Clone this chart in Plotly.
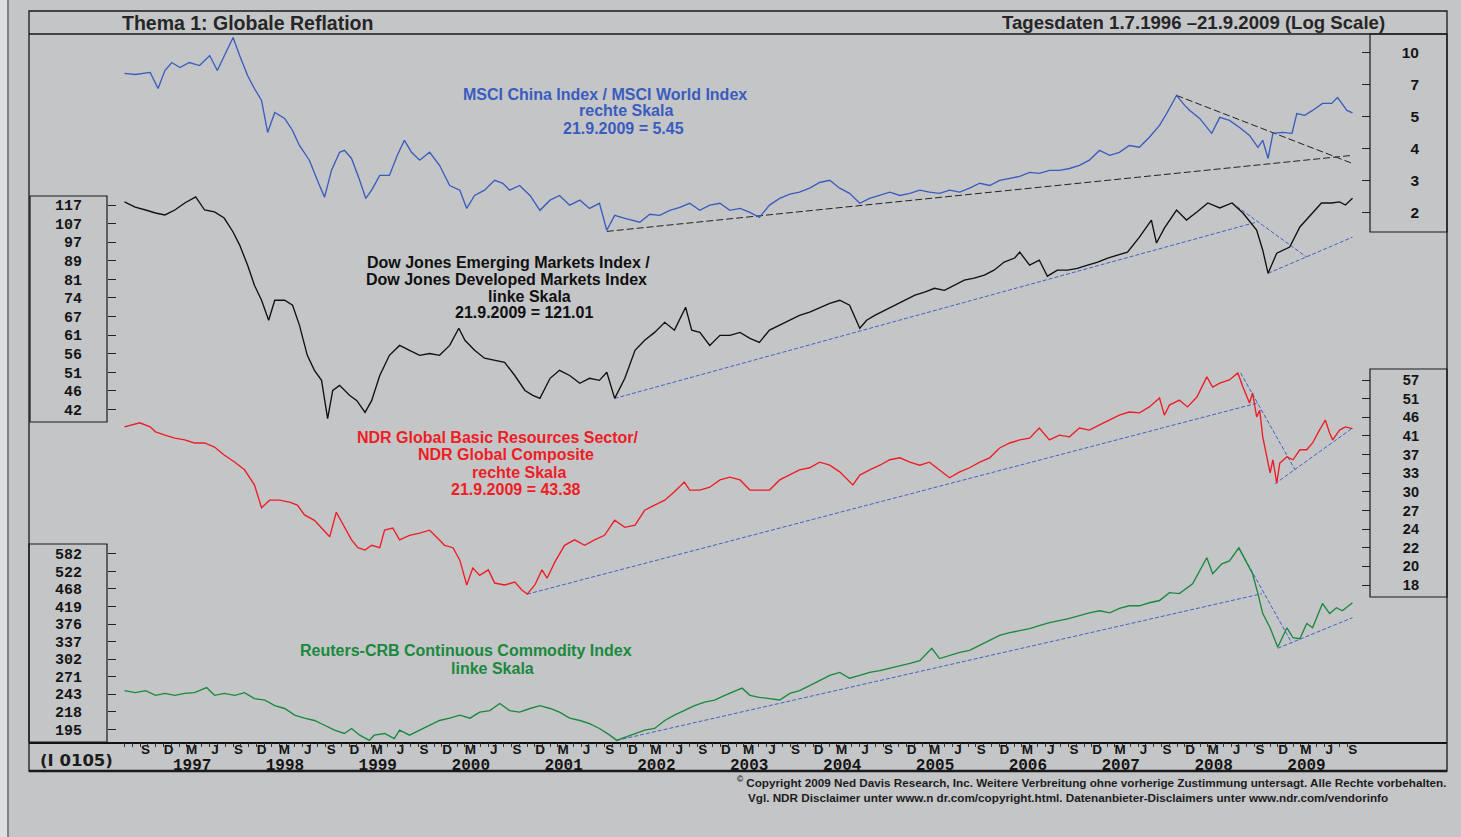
import numpy as np
import pandas as pd
import plotly.graph_objects as go

# ---------------------------------------------------------------- data
msci_dates = ["1996-07-01","1996-08-12","1996-10-10","1996-11-10","1996-12-07","1997-01-03","1997-02-04","1997-03-13",
    "1997-04-22","1997-06-01","1997-07-01","1997-07-28","1997-09-01","1997-09-27","1997-10-28","1997-11-24","1997-12-22",
    "1998-01-15","1998-02-12","1998-03-23","1998-04-23","1998-05-20","1998-06-28","1998-08-07","1998-08-27","1998-09-23",
    "1998-10-25","1998-11-13","1998-12-11","1999-01-12","1999-02-05","1999-02-28","1999-04-01","1999-05-09","1999-06-09",
    "1999-07-07","1999-08-04","1999-09-05","1999-10-14","1999-11-22","2000-01-01","2000-02-10","2000-03-08","2000-04-08",
    "2000-05-17","2000-06-26","2000-07-28","2000-08-24","2000-10-02","2000-11-12","2000-12-21","2001-01-30","2001-03-08",
    "2001-04-17","2001-05-27","2001-07-04","2001-08-12","2001-09-10","2001-10-11","2001-11-20","2002-01-18","2002-02-26",
    "2002-04-06","2002-05-16","2002-06-24","2002-08-02","2002-09-11","2002-10-20","2002-11-29","2003-01-07","2003-02-16",
    "2003-03-27","2003-05-03","2003-06-12","2003-07-22","2003-08-31","2003-10-08","2003-11-17","2003-12-26","2004-02-04",
    "2004-03-14","2004-04-22","2004-06-01","2004-07-10","2004-08-19","2004-09-27","2004-11-06","2004-12-15","2005-01-23",
    "2005-03-02","2005-04-11","2005-05-20","2005-06-29","2005-08-07","2005-09-16","2005-10-25","2005-12-03","2006-01-12",
    "2006-02-20","2006-03-31","2006-05-08","2006-06-17","2006-07-26","2006-09-04","2006-10-13","2006-11-21","2006-12-31",
    "2007-02-09","2007-03-19","2007-04-27","2007-06-06","2007-07-15","2007-08-24","2007-09-21","2007-10-30","2007-12-01",
    "2007-12-21","2008-01-29","2008-03-16","2008-04-17","2008-05-25","2008-07-04","2008-08-12","2008-09-14","2008-10-03",
    "2008-10-24","2008-11-12","2008-12-18","2009-01-26","2009-02-14","2009-03-17","2009-04-17","2009-05-26","2009-07-01",
    "2009-07-24","2009-08-30","2009-09-21"]
msci_vals = [8.10,8.01,8.18,6.96,8.34,9.04,8.60,9.04,8.77,9.70,8.34,9.70,11.63,9.70,7.93,6.96,6.17,
    4.47,5.47,5.15,4.56,3.92,3.38,2.62,2.33,3.05,3.66,3.73,3.44,2.76,2.30,2.50,2.90,2.90,3.55,
    4.13,3.66,3.38,3.66,3.21,2.62,2.50,2.08,2.37,2.50,2.76,2.68,2.50,2.62,2.37,2.04,2.26,2.37,
    2.15,2.26,2.08,2.19,1.67,1.94,1.88,1.81,1.96,1.94,2.04,2.10,2.19,2.04,2.15,2.19,2.04,2.08,
    2.00,1.90,2.15,2.30,2.40,2.45,2.55,2.70,2.76,2.55,2.42,2.19,2.30,2.37,2.45,2.37,2.42,2.50,
    2.45,2.42,2.50,2.45,2.55,2.68,2.62,2.76,2.81,2.87,2.99,2.96,3.05,3.05,3.11,3.21,3.38,3.73,
    3.55,3.66,3.92,3.85,4.26,4.80,5.41,6.49,5.87,5.58,5.15,4.43,5.20,5.05,4.70,4.34,3.85,4.13,
    3.44,4.43,4.47,4.43,5.41,5.31,5.58,5.99,5.99,6.36,5.58,5.45]

dj_dates = ["1996-07-01","1996-08-12","1996-09-22","1996-10-31","1996-12-07","1997-01-15","1997-02-23","1997-04-07",
    "1997-05-12","1997-06-20","1997-07-28","1997-09-01","1997-09-27","1997-10-28","1997-11-24","1997-12-22","1998-01-19",
    "1998-02-12","1998-03-23","1998-04-23","1998-05-20","1998-06-20","1998-07-18","1998-08-15","1998-09-08","1998-09-28",
    "1998-10-25","1998-12-03","1999-01-01","1999-02-02","1999-02-28","1999-04-01","1999-05-09","1999-06-18","1999-07-27",
    "1999-09-05","1999-10-14","1999-11-22","2000-01-01","2000-02-06","2000-03-01","2000-04-08","2000-05-17","2000-06-26",
    "2000-08-04","2000-09-13","2000-10-23","2000-11-23","2000-12-21","2001-01-30","2001-03-08","2001-04-17","2001-05-27",
    "2001-07-04","2001-08-12","2001-09-10","2001-10-11","2001-11-20","2001-12-30","2002-02-06","2002-03-17","2002-04-26",
    "2002-06-03","2002-07-17","2002-08-10","2002-09-11","2002-10-20","2002-11-29","2003-01-07","2003-02-16","2003-03-27",
    "2003-05-03","2003-06-12","2003-07-22","2003-08-31","2003-10-08","2003-11-17","2003-12-26","2004-02-04","2004-03-14",
    "2004-04-22","2004-06-01","2004-06-28","2004-07-30","2004-09-08","2004-10-17","2004-11-26","2005-01-04","2005-02-11",
    "2005-03-22","2005-04-30","2005-06-07","2005-07-17","2005-08-25","2005-10-04","2005-11-11","2005-12-21","2006-01-31",
    "2006-02-20","2006-03-31","2006-05-08","2006-06-09","2006-07-18","2006-08-27","2006-10-05","2006-11-14","2006-12-24",
    "2007-02-01","2007-03-12","2007-04-20","2007-06-06","2007-07-23","2007-08-12","2007-09-12","2007-10-30","2007-12-08",
    "2008-01-18","2008-03-01","2008-04-17","2008-06-04","2008-07-17","2008-09-09","2008-10-03","2008-10-24","2008-11-27",
    "2009-01-17","2009-02-26","2009-04-17","2009-05-22","2009-07-01","2009-08-01","2009-08-24","2009-09-21"]
dj_vals = [118.8,115.8,114.1,112.4,111.3,114.1,118.2,121.8,114.1,113.0,109.6,102.2,95.7,86.6,78.3,72.6,65.7,
    72.6,72.6,70.8,64.1,55.1,51.1,48.6,40.1,46.2,47.4,45.1,43.9,41.4,43.9,49.8,55.1,57.9,56.5,
    55.1,55.6,55.1,57.9,63.1,59.4,56.5,54.3,53.7,53.2,49.8,46.2,45.1,44.4,49.1,51.1,49.8,47.9,
    49.1,48.6,50.6,44.4,49.1,56.5,59.4,61.8,65.0,62.5,70.1,62.5,61.8,57.9,60.9,60.9,61.8,60.0,
    58.8,62.5,64.1,65.7,67.3,68.4,69.8,71.5,72.6,70.8,63.1,65.7,67.3,69.1,70.8,72.6,74.5,75.6,
    77.1,76.3,78.3,80.3,81.1,82.3,84.4,87.9,89.7,92.4,86.6,88.8,81.9,84.4,84.4,85.2,86.6,87.9,
    89.7,91.0,92.4,99.6,108.5,96.7,104.2,114.1,108.5,113.0,118.2,115.3,118.2,112.4,103.2,93.3,83.1,91.9,
    94.8,104.8,112.4,118.2,118.2,118.8,117.0,121.01]

ndr_dates = ["1996-07-01","1996-08-30","1996-10-10","1996-10-31","1996-12-07","1997-01-15","1997-02-23","1997-04-02",
    "1997-05-12","1997-06-20","1997-07-28","1997-09-08","1997-10-16","1997-11-24","1997-12-22","1998-01-23","1998-03-02",
    "1998-04-11","1998-05-12","1998-06-09","1998-07-18","1998-08-15","1998-09-16","1998-10-12","1998-11-13","1998-12-11",
    "1999-01-05","1999-02-02","1999-02-28","1999-04-01","1999-04-20","1999-05-22","1999-06-18","1999-07-27","1999-09-05",
    "1999-10-14","1999-11-15","1999-12-12","2000-01-14","2000-02-10","2000-03-08","2000-04-01","2000-04-28","2000-06-01",
    "2000-06-26","2000-08-04","2000-09-13","2000-10-11","2000-11-01","2000-12-01","2000-12-29","2001-01-18","2001-02-18",
    "2001-03-28","2001-05-06","2001-06-15","2001-07-24","2001-09-01","2001-10-11","2001-11-20","2001-12-30","2002-02-06",
    "2002-03-17","2002-04-26","2002-06-03","2002-07-12","2002-08-02","2002-09-11","2002-10-20","2002-11-29","2003-01-07",
    "2003-02-16","2003-03-27","2003-05-03","2003-06-12","2003-07-22","2003-08-31","2003-10-08","2003-11-17","2003-12-26",
    "2004-02-04","2004-03-14","2004-05-05","2004-06-01","2004-07-10","2004-08-19","2004-09-27","2004-11-06","2004-12-15",
    "2005-01-23","2005-03-02","2005-04-11","2005-05-20","2005-06-29","2005-08-07","2005-09-16","2005-10-25","2005-12-03",
    "2006-01-12","2006-02-20","2006-03-31","2006-05-08","2006-06-17","2006-07-26","2006-09-04","2006-10-13","2006-11-21",
    "2006-12-31","2007-02-09","2007-03-19","2007-04-27","2007-06-06","2007-07-15","2007-08-24","2007-09-12","2007-10-02",
    "2007-11-10","2007-12-12","2008-01-18","2008-02-26","2008-03-20","2008-04-17","2008-05-25","2008-06-27","2008-07-17",
    "2008-08-12","2008-08-24","2008-09-09","2008-09-21","2008-10-03","2008-10-19","2008-11-01","2008-11-12","2008-11-27",
    "2008-12-09","2009-01-06","2009-01-30","2009-02-26","2009-03-25","2009-04-17","2009-05-14","2009-06-06","2009-06-23",
    "2009-07-05","2009-08-01","2009-08-24","2009-09-21"]
ndr_vals = [43.8,44.8,43.8,42.6,41.8,41.1,40.7,40.0,40.0,39.1,37.4,35.9,34.4,31.6,27.8,29.0,29.0,
    28.7,28.2,26.7,25.9,24.8,23.6,27.1,24.9,23.2,22.2,21.9,22.5,22.2,24.5,24.8,23.2,23.8,24.1,
    24.5,23.4,22.5,22.2,20.7,18.0,19.8,19.0,19.6,18.2,18.0,18.3,17.5,17.1,18.0,19.6,18.7,20.5,
    22.5,23.2,22.5,23.2,23.8,25.9,24.9,25.2,27.4,28.2,29.0,30.4,32.1,30.7,30.7,31.2,32.5,33.0,
    32.5,30.7,30.7,30.7,32.5,33.4,34.4,34.8,35.9,35.3,34.0,31.6,33.4,34.4,35.3,36.4,36.8,35.9,
    35.3,35.9,34.4,32.9,34.0,34.8,35.9,36.8,38.9,40.0,40.7,41.1,43.5,40.7,41.8,41.4,43.5,43.0,
    44.3,45.5,46.8,47.6,47.4,49.0,51.5,46.8,49.5,50.9,49.0,51.8,58.0,54.8,56.0,57.0,59.3,54.8,
    50.1,53.0,46.3,48.1,41.4,37.0,33.8,36.4,31.9,35.7,37.0,36.4,38.5,38.5,40.0,43.0,45.5,42.3,
    40.7,43.0,43.8,43.38]

crb_dates = ["1996-07-01","1996-08-12","1996-09-22","1996-10-31","1996-12-07","1997-01-15","1997-02-23","1997-04-02",
    "1997-05-20","1997-06-20","1997-07-28","1997-09-08","1997-10-16","1997-11-24","1998-01-04","1998-02-12","1998-03-23",
    "1998-05-01","1998-06-09","1998-07-18","1998-08-27","1998-10-05","1998-11-13","1998-12-11","1999-01-12","1999-02-19",
    "1999-03-10","1999-04-20","1999-05-28","1999-06-18","1999-07-27","1999-09-05","1999-10-14","1999-11-22","2000-01-01",
    "2000-02-10","2000-03-21","2000-04-28","2000-06-07","2000-07-16","2000-08-24","2000-10-02","2000-11-12","2000-12-21",
    "2001-01-30","2001-03-08","2001-04-17","2001-05-27","2001-07-04","2001-08-12","2001-09-22","2001-10-19","2001-11-20",
    "2001-12-30","2002-02-06","2002-03-17","2002-04-26","2002-06-03","2002-07-12","2002-08-21","2002-09-30","2002-11-08",
    "2002-12-18","2003-01-27","2003-02-24","2003-03-27","2003-05-03","2003-06-12","2003-07-22","2003-08-31","2003-10-08",
    "2003-11-17","2003-12-26","2004-02-04","2004-03-14","2004-04-22","2004-06-01","2004-07-10","2004-08-19","2004-09-27",
    "2004-11-06","2004-12-15","2005-01-23","2005-03-11","2005-04-11","2005-05-20","2005-06-29","2005-08-07","2005-09-16",
    "2005-10-25","2005-12-03","2006-01-12","2006-02-20","2006-03-31","2006-05-08","2006-06-17","2006-07-26","2006-09-04",
    "2006-10-13","2006-11-21","2006-12-31","2007-02-09","2007-03-19","2007-04-27","2007-06-06","2007-07-15","2007-08-24",
    "2007-10-02","2007-11-10","2008-01-01","2008-02-26","2008-03-20","2008-04-25","2008-05-25","2008-07-01","2008-08-02",
    "2008-08-24","2008-09-14","2008-10-03","2008-11-01","2008-12-01","2009-01-06","2009-01-30","2009-02-26","2009-03-25",
    "2009-04-17","2009-05-03","2009-05-26","2009-06-23","2009-07-20","2009-08-12","2009-09-21"]
crb_vals = [248,245,248,241,244,241,244,245,253,241,244,241,245,236,234,226,222,
    213,209,206,200,194,190,196,188,182,188,190,184,194,188,194,200,206,209,
    213,209,217,219,229,219,217,222,226,222,217,209,206,202,196,188,182,185.5,
    190,194,196,206,213,219,226,231,234,241,248,252,241,238,236,234,244,248,
    256,264,273,278,268,273,278,281,285,290,294,299,323,303,309,315,319,329,
    339,350,356,361,365,372,379,384,389,396,403,408,403,414,421,421,429,435,
    457,454,483,568,514,547,557,604,547,514,454,401,367,325,367,345,343,377,
    367,391,427,401,416,408,429]

# trend lines (start, end)
msci_support_dates, msci_support_vals = ["2001-09-10", "2009-09-21"], [1.65, 3.55]
msci_resist_dates, msci_resist_vals = ["2007-10-30", "2009-09-21"], [6.49, 3.27]
dj_long_dates, dj_long_vals = ["2001-10-11", "2008-09-09"], [44.4, 107.4]
dj_down_dates, dj_down_vals = ["2008-06-04", "2009-03-25"], [118.2, 90.1]
dj_up_dates, dj_up_vals = ["2008-10-24", "2009-09-21"], [83.1, 99.6]
ndr_long_dates, ndr_long_vals = ["2000-11-01", "2008-09-14"], [17.1, 50.1]
ndr_down_dates, ndr_down_vals = ["2008-07-08", "2009-02-07"], [59.3, 34.4]
ndr_up_dates, ndr_up_vals = ["2008-11-20", "2009-09-21"], [31.8, 43.5]
crb_long_dates, crb_long_vals = ["2001-10-19", "2008-09-30"], [182, 454]
crb_down_dates, crb_down_vals = ["2008-07-01", "2009-01-26"], [604, 333]
crb_up_dates, crb_up_vals = ["2008-12-01", "2009-09-21"], [323, 391]

# axis tick labels (ticks are evenly spaced on the log scale)
msci_ticktext = ["10", "7", "5", "4", "3", "2"]
dj_ticktext = ["117", "107", "97", "89", "81", "74", "67", "61", "56", "51", "46", "42"]
ndr_ticktext = ["57", "51", "46", "41", "37", "33", "30", "27", "24", "22", "20", "18"]
crb_ticktext = ["582", "522", "468", "419", "376", "337", "302", "271", "243", "218", "195"]
month_letters = {9: "S", 12: "D", 3: "M", 6: "J"}
years = list(range(1997, 2010))

# ---------------------------------------------------------------- layout geometry (pixels)
W, H = 1461, 837
PL, PR, PT, PB = 29, 1447, 34, 742


def px_x(p):
    return (p - PL) / (PR - PL)


def px_y(p):
    return (PB - p) / (PB - PT)


def log_range(v_top, py_top, v_bot, py_bot):
    k = (np.log10(v_top) - np.log10(v_bot)) / (py_bot - py_top)
    return [np.log10(v_bot) - k * (PB - py_bot), np.log10(v_top) + k * (py_top - PT)]


def geo_ticks(n_labels, hi, lo):
    n = n_labels - 1
    return [hi * (lo / hi) ** (i / n) for i in range(n_labels)]


BG = "#c4c5c7"
BLUE = "#3a5cbf"
RED = "#ee1d25"
GREEN = "#19893d"
BLACK = "#101010"
TBLUE = "#4262c6"
SANS = "Liberation Sans, Arial, sans-serif"
MONO = "Liberation Mono, Courier New, monospace"
NARROW = "Liberation Sans Narrow, Arial Narrow, Liberation Sans, sans-serif"
WIDE = "DejaVu Sans, Liberation Sans, sans-serif"

msci_range = log_range(10, 52.5, 2, 212.3)
dj_range = log_range(117, 205, 42, 409.5)
ndr_range = log_range(57, 380, 18, 585)
crb_range = log_range(582, 553.8, 195, 729.3)

msci_tickvals = geo_ticks(6, 10, 2)
dj_tickvals = geo_ticks(12, 117, 42)
ndr_tickvals = geo_ticks(12, 57, 18)
crb_tickvals = geo_ticks(11, 582, 195)

start, end = pd.Timestamp("1996-07-01"), pd.Timestamp("2009-09-21")
dpp = (end - start).days / (1352.5 - 124.5)
x0 = start - pd.Timedelta(days=(124.5 - PL) * dpp)
x1 = end + pd.Timedelta(days=(PR - 1352.5) * dpp)

lab_vals, lab_text = [], []
for y in range(1996, 2010):
    for m in (3, 6, 9, 12):
        d = pd.Timestamp(year=y, month=m, day=22)
        if pd.Timestamp("1996-09-01") <= d <= pd.Timestamp("2009-09-30"):
            lab_vals.append(d.strftime("%Y-%m-%d"))
            lab_text.append(month_letters[m])
year_vals = [f"{y}-03-24" for y in years]
year_text = [str(y) for y in years]
month_ticks = [d.strftime("%Y-%m-%d") for d in pd.date_range("1996-07-01", "2009-09-01", freq="MS")]

# ---------------------------------------------------------------- figure
fig = go.Figure()


def line(xs, ys, color, axis, width=1.35, dash=None, xaxis="x"):
    fig.add_trace(go.Scatter(x=xs, y=ys, mode="lines", xaxis=xaxis, yaxis=axis, hoverinfo="skip",
                             line=dict(color=color, width=width, dash=dash), showlegend=False))


line(msci_support_dates, msci_support_vals, "#222222", "y", 1, "7px,3px")
line(msci_resist_dates, msci_resist_vals, "#222222", "y", 1, "7px,3px")
line(dj_long_dates, dj_long_vals, TBLUE, "y2", 1, "4px,2px")
line(dj_down_dates, dj_down_vals, TBLUE, "y2", 1, "4px,2px")
line(dj_up_dates, dj_up_vals, TBLUE, "y2", 1, "4px,2px")
line(ndr_long_dates, ndr_long_vals, TBLUE, "y3", 1, "4px,2px")
line(ndr_down_dates, ndr_down_vals, TBLUE, "y3", 1, "4px,2px")
line(ndr_up_dates, ndr_up_vals, TBLUE, "y3", 1, "4px,2px")
line(crb_long_dates, crb_long_vals, TBLUE, "y4", 1, "4px,2px")
line(crb_down_dates, crb_down_vals, TBLUE, "y4", 1, "4px,2px")
line(crb_up_dates, crb_up_vals, TBLUE, "y4", 1, "4px,2px")

line(msci_dates, msci_vals, BLUE, "y")
line(dj_dates, dj_vals, BLACK, "y2")
line(ndr_dates, ndr_vals, RED, "y3")
line(crb_dates, crb_vals, GREEN, "y4")

# invisible anchors so the label-only / tick-only axes are drawn
for xa, ya, xs, ys in (("x", "y5", msci_dates, msci_vals), ("x", "y6", ndr_dates, ndr_vals),
                       ("x2", "y", msci_dates, msci_vals), ("x3", "y", msci_dates, msci_vals)):
    fig.add_trace(go.Scatter(x=[xs[-1]], y=[ys[-1]], mode="markers", xaxis=xa, yaxis=ya,
                             marker=dict(opacity=0, size=1), hoverinfo="skip", showlegend=False))

common_y = dict(type="log", anchor="free", showgrid=False, zeroline=False, showline=False,
                fixedrange=True, tickmode="array", tickcolor="#222222", tickwidth=1)
common_x = dict(type="date", range=[x0, x1], showgrid=False, zeroline=False, fixedrange=True,
                tickmode="array")

fig.update_layout(
    width=W, height=H,
    margin=dict(l=PL, r=W - PR, t=PT, b=H - PB, autoexpand=False),
    paper_bgcolor=BG, plot_bgcolor=BG,
    showlegend=False,
    # main time axis: axis line and the year labels
    xaxis=dict(common_x, showline=True, linecolor="#111111", linewidth=2,
               tickvals=year_vals, ticktext=year_text, ticks="", ticklabelstandoff=7,
               tickfont=dict(family=MONO, size=16, color="#151515", weight="bold")),
    # overlay time axis carrying the quarter letters
    xaxis2=dict(common_x, overlaying="x", anchor="free", position=px_y(739.5), side="bottom",
                showline=False, tickvals=lab_vals, ticktext=lab_text, ticks="",
                tickfont=dict(family=SANS, size=13.5, color="#151515", weight="bold")),
    # overlay time axis carrying the monthly ticks over the data span
    xaxis3=dict(common_x, overlaying="x", anchor="free", position=0, side="bottom",
                showline=False, tickvals=month_ticks, ticks="outside", ticklen=4, tickwidth=1,
                tickcolor="#333333", showticklabels=False),
    yaxis=dict(common_y, range=msci_range, position=px_x(1370), side="right", ticks="inside",
               ticklen=8, tickvals=msci_tickvals, showticklabels=False),
    yaxis2=dict(common_y, range=dj_range, overlaying="y", position=px_x(107), side="left",
                ticks="inside", ticklen=8, tickvals=dj_tickvals, ticktext=dj_ticktext,
                ticklabelstandoff=25,
                tickfont=dict(family=MONO, size=15, color="#151515", weight="bold")),
    yaxis3=dict(common_y, range=ndr_range, overlaying="y", position=px_x(1370), side="right",
                ticks="inside", ticklen=8, tickvals=ndr_tickvals, showticklabels=False),
    yaxis4=dict(common_y, range=crb_range, overlaying="y", position=px_x(107), side="left",
                ticks="inside", ticklen=8, tickvals=crb_tickvals, ticktext=crb_ticktext,
                ticklabelstandoff=25,
                tickfont=dict(family=MONO, size=15, color="#151515", weight="bold")),
    yaxis5=dict(common_y, range=msci_range, overlaying="y", position=px_x(1419), side="left",
                ticks="", tickvals=msci_tickvals, ticktext=msci_ticktext, ticklabelstandoff=0,
                tickfont=dict(family=SANS, size=15.5, color="#151515", weight="bold")),
    yaxis6=dict(common_y, range=ndr_range, overlaying="y", position=px_x(1419), side="left",
                ticks="", tickvals=ndr_tickvals, ticktext=ndr_ticktext, ticklabelstandoff=0,
                tickfont=dict(family=SANS, size=14.5, color="#151515", weight="bold")),
)

# ---------------------------------------------------------------- frames and boxes
shapes = []


def rect(xa, ya, xb, yb, width=1.2, color="#1a1a1a"):
    shapes.append(dict(type="rect", xref="paper", yref="paper", x0=px_x(xa), x1=px_x(xb),
                       y0=px_y(yb), y1=px_y(ya), line=dict(color=color, width=width),
                       fillcolor="rgba(0,0,0,0)", layer="above"))


def hline(xa, xb, y, width=1.2, color="#1a1a1a"):
    shapes.append(dict(type="line", xref="paper", yref="paper", x0=px_x(xa), x1=px_x(xb),
                       y0=px_y(y), y1=px_y(y), line=dict(color=color, width=width), layer="above"))


shapes.append(dict(type="rect", xref="paper", yref="paper", x0=px_x(-2), x1=px_x(7.5),
                   y0=px_y(H + 5), y1=px_y(-5), line=dict(width=0), fillcolor="#dedfe1", layer="above"))
shapes.append(dict(type="line", xref="paper", yref="paper", x0=px_x(8), x1=px_x(8),
                   y0=px_y(H + 5), y1=px_y(-5), line=dict(color="#6a6a6a", width=1.5), layer="above"))
rect(29, 11, 1447, 771, 1.3)
hline(29, 1447, 771, 2.5)
hline(29, 1447, 34, 1.3)
rect(1370, 34, 1447, 232)
rect(30, 196, 107, 422)
rect(1370, 369, 1447, 597)
rect(29, 544, 107, 742)
fig.update_layout(shapes=shapes)

# ---------------------------------------------------------------- texts
ann = []


def text(s, xp, yp, color="#1c1c1c", size=16, family=SANS, anchor="center", bold=True):
    ann.append(dict(text=s, xref="paper", yref="paper", x=px_x(xp), y=px_y(yp),
                    xanchor=anchor, yanchor="middle", showarrow=False,
                    font=dict(family=family, size=size, color=color, weight="bold" if bold else "normal")))


text("Thema 1: Globale Reflation", 120, 23, "#262626", 19.5, anchor="left")
text("Tagesdaten 1.7.1996 \u201321.9.2009 (Log Scale)", 1387, 23, "#262626", 18.6, anchor="right")

text("MSCI China Index / MSCI World Index", 605, 95, BLUE)
text("rechte Skala", 626, 111, BLUE)
text("21.9.2009 = 5.45", 623, 128, BLUE)

text("Dow Jones Emerging Markets Index /", 509, 262, BLACK)
text("Dow Jones Developed Markets Index", 507, 279, BLACK)
text("linke Skala", 529, 296, BLACK)
text("21.9.2009 = 121.01", 524, 313, BLACK)

text("NDR Global Basic Resources Sector/", 498, 437, RED)
text("NDR Global Composite", 506, 454, RED)
text("rechte Skala", 519, 472, RED)
text("21.9.2009 = 43.38", 516, 489, RED)

text("Reuters-CRB Continuous Commodity Index", 466, 650, GREEN)
text("linke Skala", 492, 668, GREEN)

text("(I 0105)", 38, 760, "#1c1c1c", 16.5, WIDE, anchor="left")

text("<sup>\u00a9</sup> Copyright 2009 Ned Davis Research, Inc. Weitere Verbreitung ohne vorherige "
     "Zustimmung untersagt. Alle Rechte vorbehalten.", 1448, 782, "#1c1c1c", 11.7, NARROW, "right")
text("Vgl. NDR Disclaimer unter www.n dr.com/copyright.html. Datenanbieter-Disclaimers unter "
     "www.ndr.com/vendorinfo", 746, 797, "#1c1c1c", 11.7, NARROW, "left")

fig.update_layout(annotations=ann)

fig.write_html("out.html", config={"displayModeBar": False},
               post_script="document.body.style.margin='0px';document.body.style.overflow='hidden';")
